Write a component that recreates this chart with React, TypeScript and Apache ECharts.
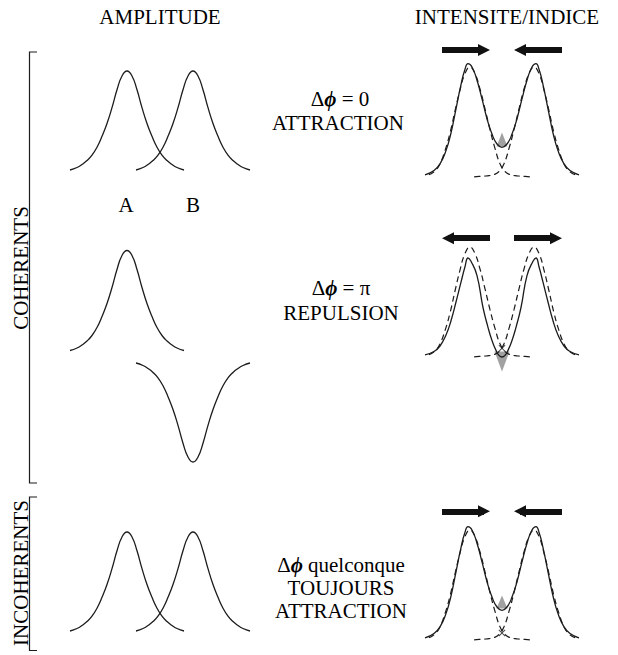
import React, { useEffect, useRef } from 'react';
import * as echarts from 'echarts';

// ---------- DATA ----------
// Amplitude bell profile (horizontal offset, relative amplitude)
const ampOffsets = [-57, -50, -45, -40, -35, -30, -25, -20, -15, -10, -5, 0, 5, 10, 15, 20, 25, 30, 35, 40, 45, 50, 57];
const ampValues = [0, 0.025, 0.055, 0.095, 0.15, 0.23, 0.34, 0.47, 0.63, 0.81, 0.95, 1, 0.95, 0.81, 0.63, 0.47, 0.34, 0.23, 0.15, 0.095, 0.055, 0.025, 0];
const ampInvertedValues = [0, -0.025, -0.055, -0.095, -0.15, -0.23, -0.34, -0.47, -0.63, -0.81, -0.95, -1, -0.95, -0.81, -0.63, -0.47, -0.34, -0.23, -0.15, -0.095, -0.055, -0.025, 0];
const ampCenterA = -33;
const ampCenterB = 33;
const ampLabels = ['A', 'B'];

// Individual intensities (dashed), left and right
const dashLeftX = [-73, -67, -62, -57, -52, -47, -42, -37, -32, -27, -22, -17, -12, -7, -2, 3, 8, 13, 18, 23, 31];
const dashLeftY = [0.02, 0.055, 0.12, 0.24, 0.4, 0.6, 0.79, 0.94, 1, 0.94, 0.8, 0.62, 0.43, 0.26, 0.12, 0.05, 0.022, 0.012, 0.008, 0.005, 0];
const dashRightX = [73, 67, 62, 57, 52, 47, 42, 37, 32, 27, 22, 17, 12, 7, 2, -3, -8, -13, -18, -23, -31];
const dashRightY = [0.02, 0.055, 0.12, 0.24, 0.4, 0.6, 0.79, 0.94, 1, 0.94, 0.8, 0.62, 0.43, 0.26, 0.12, 0.05, 0.022, 0.012, 0.008, 0.005, 0];

// Total intensity, attraction (in phase / incoherent)
const attrX = [-77, -68, -62, -56, -51, -46, -41, -37, -34, -30, -25, -20, -15, -10, -5, 0, 5, 10, 15, 20, 25, 30, 34, 37, 41, 46, 51, 56, 62, 68, 77];
const attrY = [0.02, 0.06, 0.12, 0.24, 0.4, 0.62, 0.84, 0.98, 1.03, 1.0, 0.88, 0.71, 0.53, 0.39, 0.3, 0.27, 0.3, 0.39, 0.53, 0.71, 0.88, 1.0, 1.03, 0.98, 0.84, 0.62, 0.4, 0.24, 0.12, 0.06, 0.02];
// Total intensity, repulsion (opposite phase)
const repX = [-77, -68, -62, -56, -51, -46, -41, -37, -34, -31, -25, -19, -14, -10, -6, -3, 0, 3, 6, 10, 14, 19, 25, 31, 34, 37, 41, 46, 51, 56, 62, 68, 77];
const repY = [0.02, 0.05, 0.1, 0.2, 0.33, 0.5, 0.68, 0.82, 0.9, 0.87, 0.74, 0.45, 0.27, 0.15, 0.06, 0.015, 0, 0.015, 0.06, 0.15, 0.27, 0.45, 0.74, 0.87, 0.9, 0.82, 0.68, 0.5, 0.33, 0.2, 0.1, 0.05, 0.02];

// Markers per intensity panel
const crossMarkY = [null, 0.08, 0.064];
const triangleY = [0.34, -0.04, 0.345];
const triangleDown = [false, true, false];
const triangleSize = [[11, 14], [15, 20], [11, 13]];
const arrowY = [1.155, 1.08, 1.17];
const arrowInward = [true, false, true];
const arrowOuter = 60;
const arrowInner = 12;
const arrowHead = 12;

// Texts
const headerLeft = 'AMPLITUDE';
const headerRight = 'INTENSITE/INDICE';
const caseTexts = [
  ['Δ{p|ϕ} = 0', 'ATTRACTION'],
  ['Δ{p|ϕ} = π', 'REPULSION'],
  ['Δ{p|ϕ} quelconque', 'TOUJOURS', 'ATTRACTION'],
];
const groupLabels = ['COHERENTS', 'INCOHERENTS'];

// ---------- CHART ----------
const INK = '#1c1c1c';
const FAMILY = 'Liberation Serif';
const SIZE = 21;

function zip(xs: number[], ys: number[]) {
  return xs.map((x, i) => [x, ys[i]]);
}

function makeMeasurer() {
  const canvas = document.createElement('canvas');
  const ctx = canvas.getContext('2d');
  return (text: string) => {
    if (!ctx) return text.length * SIZE * 0.6;
    let total = 0;
    const parts = text.split(/(\{p\|[^}]*\})/);
    for (const part of parts) {
      if (!part) continue;
      const m = part.match(/^\{p\|([^}]*)\}$/);
      if (m) {
        ctx.font = `italic bold ${SIZE}px "${FAMILY}"`;
        total += ctx.measureText(m[1]).width;
      } else {
        ctx.font = `${SIZE}px "${FAMILY}"`;
        total += ctx.measureText(part).width;
      }
    }
    return total;
  };
}

export default function App() {
  const ref = useRef<HTMLDivElement>(null);

  useEffect(() => {
    if (!ref.current) return;
    const chart = echarts.init(ref.current, undefined, { renderer: 'svg' });
    const measure = makeMeasurer();

    // grids: 0 amp1, 1 amp2 (A), 2 amp2 (inverted B), 3 amp3, 4 int1, 5 int2, 6 int3
    const grids = [
      { left: 60, width: 200, top: 41.3, height: 158.4 },
      { left: 60, width: 200, top: 230.5, height: 140 },
      { left: 60, width: 200, top: 343.2, height: 138.6 },
      { left: 60, width: 200, top: 502.3, height: 148.5 },
      { left: 422, width: 160, top: 34, height: 165 },
      { left: 422, width: 160, top: 214, height: 165 },
      { left: 422, width: 160, top: 497, height: 156.2 },
    ];
    const yRanges = [
      [-0.3, 1.3], [-0.2, 1.2], [-1.2, 0.2], [-0.2, 1.3],
      [-0.2, 1.3], [-0.2, 1.3], [-0.12, 1.3],
    ];
    const xAxis = grids.map((_, i) => ({
      type: 'value', gridIndex: i, show: false,
      min: i < 4 ? -100 : -80, max: i < 4 ? 100 : 80,
    }));
    const yAxis = grids.map((_, i) => ({
      type: 'value', gridIndex: i, show: false,
      min: yRanges[i][0], max: yRanges[i][1],
    }));

    const series: any[] = [];
    const solid = (g: number, data: number[][]) => ({
      type: 'line', xAxisIndex: g, yAxisIndex: g, data, smooth: true,
      showSymbol: false, symbol: 'none', clip: false, silent: true,
      lineStyle: { color: INK, width: 1.3 },
    });
    const dashed = (g: number, data: number[][]) => ({
      type: 'line', xAxisIndex: g, yAxisIndex: g, data, smooth: true,
      showSymbol: false, symbol: 'none', clip: false, silent: true,
      lineStyle: { color: INK, width: 1.2, type: [6, 4] },
    });

    const shifted = (c: number, vals: number[]) => ampOffsets.map((o, i) => [o + c, vals[i]]);
    series.push(solid(0, shifted(ampCenterA, ampValues)));
    series.push(solid(0, shifted(ampCenterB, ampValues)));
    series.push(solid(1, shifted(ampCenterA, ampValues)));
    series.push(solid(2, shifted(ampCenterB, ampInvertedValues)));
    series.push(solid(3, shifted(ampCenterA, ampValues)));
    series.push(solid(3, shifted(ampCenterB, ampValues)));

    const totals = [zip(attrX, attrY), zip(repX, repY), zip(attrX, attrY)];
    for (let k = 0; k < 3; k++) {
      const g = 4 + k;
      series.push(dashed(g, zip(dashLeftX, dashLeftY)));
      series.push(dashed(g, zip(dashRightX, dashRightY)));
      series.push(solid(g, totals[k]));
      series.push({
        type: 'scatter', xAxisIndex: g, yAxisIndex: g, silent: true,
        symbol: 'triangle', symbolSize: triangleSize[k],
        symbolRotate: triangleDown[k] ? 180 : 0,
        itemStyle: { color: '#8a8a8a' },
        data: [[0, triangleY[k]]],
      });
      if (crossMarkY[k] != null) {
        series.push({
          type: 'scatter', xAxisIndex: g, yAxisIndex: g, silent: true,
          symbol: 'path://M0 1 L1 0 L5 4 L9 0 L10 1 L6 5 L10 9 L9 10 L5 6 L1 10 L0 9 L4 5 Z',
          symbolSize: 7,
          itemStyle: { color: INK },
          data: [[0, crossMarkY[k]]],
        });
      }
      const y = arrowY[k];
      const half = arrowHead / 2;
      const coords = arrowInward[k]
        ? [
            [[-arrowOuter, y], [-arrowInner - half, y]],
            [[arrowOuter, y], [arrowInner + half, y]],
          ]
        : [
            [[-arrowInner, y], [-arrowOuter + half, y]],
            [[arrowInner, y], [arrowOuter - half, y]],
          ];
      series.push({
        type: 'lines', coordinateSystem: 'cartesian2d', xAxisIndex: g, yAxisIndex: g,
        silent: true, symbol: ['none', 'triangle'], symbolSize: arrowHead,
        lineStyle: { color: '#111', width: 6, opacity: 1, curveness: 0 },
        data: coords.map((c) => ({ coords: c })),
      });
    }

    // horizontal text, centred at cx by measuring its width, drawn left-aligned
    const txt = (cx: number, y: number, text: string) => {
      const style: any = {
        fontSize: SIZE, fontFamily: FAMILY, fill: '#000',
        text, align: 'left', verticalAlign: 'middle',
      };
      if (text.indexOf('{p|') >= 0) {
        style.rich = {
          p: { fontStyle: 'italic', fontWeight: 'bold', fontSize: SIZE, fontFamily: FAMILY },
        };
      }
      return { type: 'text', x: cx - measure(text) / 2, y, style };
    };
    const vtxt = (x: number, y: number, text: string) => ({
      type: 'text', x, y, rotation: Math.PI / 2,
      style: {
        fontSize: SIZE, fontFamily: FAMILY, fill: '#000',
        text, textAlign: 'center', textVerticalAlign: 'middle',
      },
    });

    const graphic: any[] = [
      txt(160, 16.5, headerLeft),
      txt(507, 16.5, headerRight),
      txt(126, 205, ampLabels[0]),
      txt(193, 205, ampLabels[1]),
      txt(340, 99, caseTexts[0][0]),
      txt(338, 123, caseTexts[0][1]),
      txt(341, 288, caseTexts[1][0]),
      txt(341, 313, caseTexts[1][1]),
      txt(341, 565, caseTexts[2][0]),
      txt(341, 588, caseTexts[2][1]),
      txt(341, 611, caseTexts[2][2]),
      vtxt(21, 268, groupLabels[0]),
      vtxt(21, 573, groupLabels[1]),
      {
        type: 'polyline',
        shape: { points: [[37, 52], [29.5, 52], [29.5, 483], [37, 483]] },
        style: { stroke: INK, lineWidth: 1.2, fill: 'none' },
      },
      {
        type: 'polyline',
        shape: { points: [[37, 497], [29.5, 497], [29.5, 650.5], [37, 650.5]] },
        style: { stroke: INK, lineWidth: 1.2, fill: 'none' },
      },
    ];

    chart.setOption({
      animation: false,
      grid: grids.map((g) => ({ ...g, containLabel: false, show: false })),
      xAxis,
      yAxis,
      series,
      graphic,
    });

    return () => chart.dispose();
  }, []);

  return (
    <div
      ref={ref}
      style={{ position: 'absolute', left: 0, top: 0, width: 618, height: 655, background: '#fff' }}
    />
  );
}
